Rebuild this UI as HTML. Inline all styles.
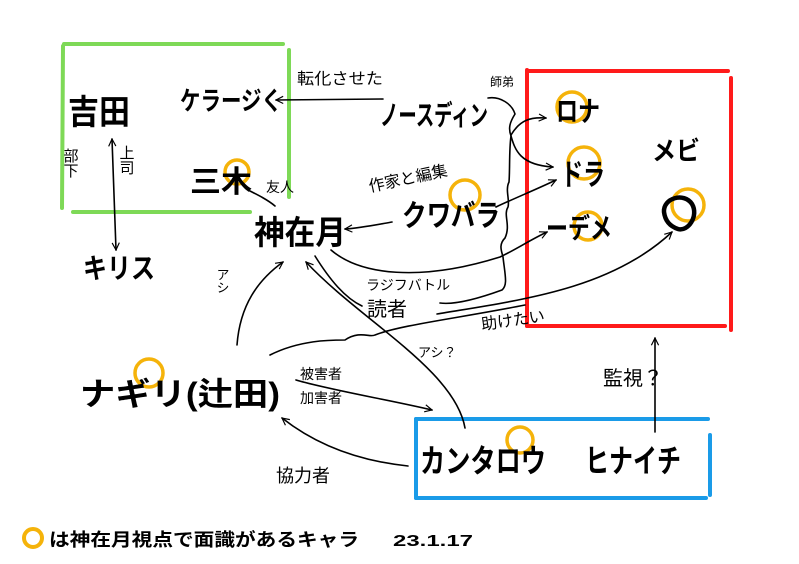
<!DOCTYPE html>
<html><head><meta charset="utf-8"><style>
html,body{margin:0;padding:0;background:#fff;}
svg{display:block;}
text{font-family:"Liberation Sans","Noto Sans CJK JP",sans-serif;fill:#000;}
.b{font-weight:bold;}
</style></head><body>
<svg width="799" height="564" viewBox="0 0 799 564" xmlns="http://www.w3.org/2000/svg">
<defs>
<marker id="a" viewBox="0 0 10 10" refX="9" refY="5" markerWidth="9" markerHeight="9" orient="auto-start-reverse" markerUnits="userSpaceOnUse">
<path d="M1,1 L9,5 L1,9" fill="none" stroke="#000" stroke-width="1.3"/>
</marker>
</defs>
<rect width="799" height="564" fill="#fff"/>
<g stroke="#7ed957" stroke-width="4" stroke-linecap="round" fill="none">
<path d="M64,44 L283,44"/><path d="M63,46 L62,208"/><path d="M73,212 L250,212"/><path d="M289,50 L289,197"/>
</g>
<g stroke="#ff1a1a" stroke-width="4" stroke-linecap="round" fill="none">
<path d="M529,71 L728,71"/><path d="M527,70 L527,326"/><path d="M527,326 L725,326"/><path d="M731,78 L731,330"/>
</g>
<g stroke="#1a9be8" stroke-width="4" stroke-linecap="round" fill="none">
<path d="M416,419 L708,419"/><path d="M416,419 L416,498"/><path d="M416,498 L706,498"/><path d="M710,435 L710,495"/>
</g>
<g stroke="#f5b30a" stroke-width="3.5" fill="none">
<circle cx="237" cy="172" r="12"/>
<circle cx="572" cy="107" r="15"/>
<circle cx="584" cy="163" r="16"/>
<circle cx="588" cy="226" r="14"/>
<circle cx="688" cy="205" r="16"/>
<circle cx="465" cy="195" r="15"/>
<circle cx="149" cy="373" r="14"/>
<circle cx="520" cy="440" r="13"/>
<circle cx="33" cy="538" r="9" stroke-width="4"/>
</g>
<g stroke="#000" stroke-width="1.6" fill="none" stroke-linecap="round">
<path d="M112,139 L116,250" marker-start="url(#a)" marker-end="url(#a)"/>
<path d="M383,99 L276,100" marker-end="url(#a)"/>
<path d="M248,190 C258,195 268,200 275,206"/>
<path d="M392,222 C375,225 360,228 345,229" marker-end="url(#a)"/>
<path d="M488,98 C500,96 512,104 515,114 C510,122 508,128 511,136 C509,150 510,170 509,182 C505,190 510,200 508,207 C503,215 511,225 505,238 C498,245 502,252 503,257 C505,275 508,285 502,290 C480,298 455,305 440,303"/>
<path d="M511,135 C520,120 530,117 546,118" marker-end="url(#a)"/>
<path d="M511,136 C515,150 520,165 553,167" marker-end="url(#a)"/>
<path d="M496,207 C515,198 535,190 556,180" marker-end="url(#a)"/>
<path d="M331,250 C360,275 420,282 500,257 C515,250 530,240 547,232" marker-end="url(#a)"/>
<path d="M315,256 C330,280 345,298 362,306"/>
<path d="M437,314 C520,300 610,290 672,232" marker-end="url(#a)"/>
<path d="M237,345 C240,305 258,280 283,262" marker-end="url(#a)"/>
<path d="M465,428 C455,370 360,320 306,262" marker-end="url(#a)"/>
<path d="M270,355 C300,340 330,340 345,340 C360,330 370,338 375,335 C400,325 460,318 525,305"/>
<path d="M296,380 C330,390 390,400 432,410" marker-end="url(#a)"/>
<path d="M408,466 C350,460 310,440 282,418" marker-end="url(#a)"/>
<path d="M655,432 L655,338" marker-end="url(#a)"/>
</g>
<path d="M664,212 C663,198 684,192 692,204 C699,216 688,232 678,229 C669,226 665,220 664,212 Z" fill="none" stroke="#000" stroke-width="4.5"/>
<text x="68" y="124" font-size="34" class="b" textLength="62" lengthAdjust="spacingAndGlyphs">吉田</text>
<text x="180" y="110" font-size="26" class="b" textLength="102" lengthAdjust="spacingAndGlyphs">ケラージく</text>
<text x="190" y="192" font-size="30" class="b" textLength="62" lengthAdjust="spacingAndGlyphs">三木</text>
<text x="266" y="192" font-size="14">友人</text>
<text x="70" y="148" font-size="15" writing-mode="tb">部下</text>
<text x="126" y="145" font-size="15" writing-mode="tb">上司</text>
<text x="83" y="278" font-size="28" class="b" textLength="72" lengthAdjust="spacingAndGlyphs">キリス</text>
<text x="254" y="244" font-size="33" class="b" textLength="92" lengthAdjust="spacingAndGlyphs">神在月</text>
<text x="297" y="84" font-size="16" textLength="86" lengthAdjust="spacingAndGlyphs">転化させた</text>
<text x="380" y="125" font-size="28" class="b" textLength="108" lengthAdjust="spacingAndGlyphs">ノースディン</text>
<text x="490" y="86" font-size="12">師弟</text>
<text x="556" y="121" font-size="28" class="b" textLength="44" lengthAdjust="spacingAndGlyphs">ロナ</text>
<text x="561" y="185" font-size="30" class="b" textLength="44" lengthAdjust="spacingAndGlyphs">ドラ</text>
<text x="546" y="238" font-size="28" class="b" textLength="66" lengthAdjust="spacingAndGlyphs">ーデメ</text>
<text x="652" y="160" font-size="26" class="b" textLength="48" lengthAdjust="spacingAndGlyphs">メビ</text>
<text x="370" y="192" font-size="16" transform="rotate(-12 370 192)">作家と編集</text>
<text x="402" y="226" font-size="30" class="b" textLength="98" lengthAdjust="spacingAndGlyphs">クワバラ</text>
<text x="366" y="290" font-size="14">ラジフバトル</text>
<text x="367" y="316" font-size="20">読者</text>
<text x="482" y="330" font-size="16" transform="rotate(-8 482 330)">助けたい</text>
<text x="222" y="268" font-size="13" writing-mode="tb">アシ</text>
<text x="418" y="357" font-size="13">アシ？</text>
<text x="80" y="405" font-size="32" class="b" textLength="200" lengthAdjust="spacingAndGlyphs">ナギリ(辻田)</text>
<text x="300" y="379" font-size="14">被害者</text>
<text x="300" y="403" font-size="14">加害者</text>
<text x="276" y="482" font-size="18">協力者</text>
<text x="420" y="472" font-size="32" class="b" textLength="126" lengthAdjust="spacingAndGlyphs">カンタロウ</text>
<text x="585" y="472" font-size="32" class="b" textLength="96" lengthAdjust="spacingAndGlyphs">ヒナイチ</text>
<text x="603" y="385" font-size="20">監視？</text>
<text x="49" y="546" font-size="18" class="b" textLength="310" lengthAdjust="spacingAndGlyphs">は神在月視点で面識があるキャラ</text>
<text x="393" y="546" font-size="16" class="b" textLength="80" lengthAdjust="spacingAndGlyphs">23.1.17</text>
</svg>
</body></html>
